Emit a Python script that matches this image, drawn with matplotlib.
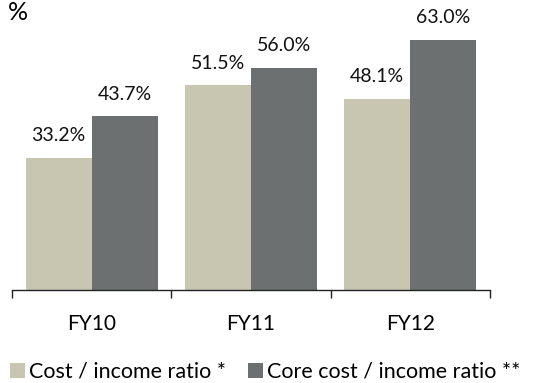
import matplotlib.pyplot as plt
import numpy as np

plt.rcParams["font.family"] = ["Lato", "DejaVu Sans"]

years = ["FY10", "FY11", "FY12"]
cost_income = [33.2, 51.5, 48.1]
core_cost_income = [43.7, 56.0, 63.0]
series_names = ["Cost / income ratio *", "Core cost / income ratio **"]
colors = ["#C8C6B1", "#6C7070"]

fig = plt.figure(figsize=(5.4, 3.83), dpi=100)
ax = fig.add_axes([12 / 540, (383 - 290) / 383, (490 - 12) / 540, 278 / 383])

x = np.arange(len(years))
w = 0.415
b1 = ax.bar(x - w / 2, cost_income, w, color=colors[0], label=series_names[0])
b2 = ax.bar(x + w / 2, core_cost_income, w, color=colors[1], label=series_names[1])

for bars, vals in ((b1, cost_income), (b2, core_cost_income)):
    for rect, v in zip(bars, vals):
        ax.annotate(f"{v:.1f}%", (rect.get_x() + rect.get_width() / 2, v),
                    xytext=(0, 10), textcoords="offset points",
                    ha="center", va="bottom", fontsize=14, color="#111111")

ax.set_xlim(-0.5, 2.5)
ax.set_ylim(0, 70)
for s in ("top", "right", "left"):
    ax.spines[s].set_visible(False)
ax.spines["bottom"].set_color("#222222")
ax.spines["bottom"].set_linewidth(1.0)
ax.set_yticks([])

ax.set_xticks([-0.5, 0.5, 1.5, 2.5])
ax.set_xticklabels([])
ax.tick_params(axis="x", which="major", length=6, width=1.0, color="#222222")
ax.set_xticks(x, minor=True)
ax.set_xticklabels(years, minor=True)
ax.tick_params(axis="x", which="minor", length=0, pad=17, labelsize=15)

fig.text(8 / 540, 1 - 12 / 383, "%", fontsize=18, va="center", ha="left")

fig.legend(handles=[b1, b2], labels=series_names, loc="center left",
           bbox_to_anchor=(10 / 540, 1 - 372 / 383), ncol=2, frameon=False,
           fontsize=15.5, handlelength=0.7, handleheight=0.7,
           handletextpad=0.2, columnspacing=1.0, borderaxespad=0,
           borderpad=0)

fig.savefig("out.png", dpi=100)
